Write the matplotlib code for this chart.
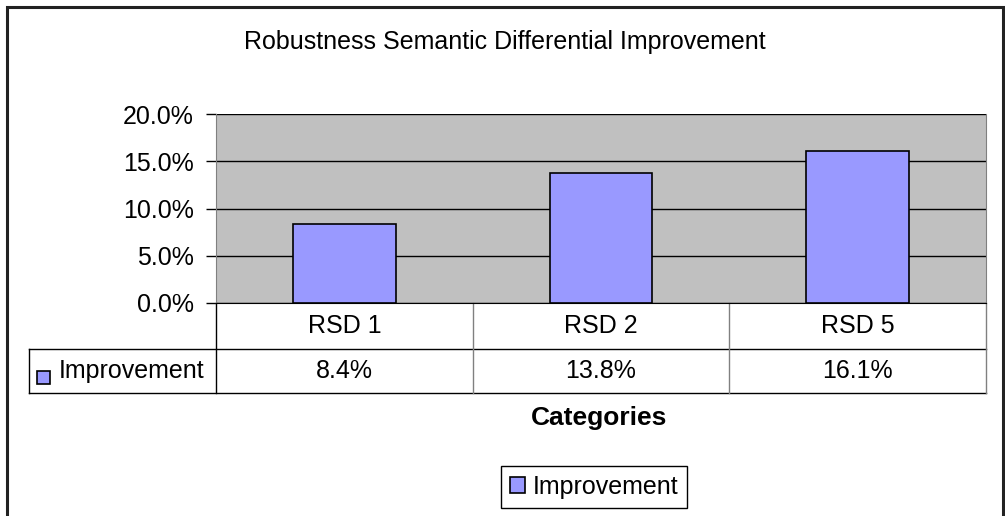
import matplotlib.pyplot as plt
from matplotlib.patches import Rectangle
from matplotlib.ticker import PercentFormatter

plt.rcParams['font.family'] = ['Liberation Sans', 'DejaVu Sans']

categories = ['RSD 1', 'RSD 2', 'RSD 5']
improvement = [8.4, 13.8, 16.1]
series_name = 'Improvement'
yticks = [0, 5, 10, 15, 20]

bar_color = '#9999FF'
bg_color = '#C0C0C0'
fs = 18

fig = plt.figure(figsize=(10.05, 5.16), dpi=100)

# outer chart frame (bottom edge runs off the image)
fig.patches.append(Rectangle((7 / 1005, -0.05), (1003 - 7) / 1005, 1 - 7 / 516 + 0.05,
                             transform=fig.transFigure, fill=False,
                             edgecolor='#222222', linewidth=2.2))

ax = fig.add_axes([216 / 1005, 1 - 303 / 516, 770 / 1005, 189 / 516])
ax.set_facecolor(bg_color)

x = list(range(len(categories)))
ax.bar(x, improvement, width=0.4, color=bar_color, edgecolor='black',
       linewidth=1.2, zorder=3, label=series_name)

ax.set_xlim(-0.5, len(categories) - 0.5)
ax.set_ylim(0, 20)
ax.set_yticks(yticks)
ax.yaxis.set_major_formatter(PercentFormatter(decimals=1))
ax.tick_params(axis='y', length=7, width=1, labelsize=fs, pad=9)
ax.set_xticks([])
ax.grid(axis='y', color='black', linewidth=1, zorder=1)
ax.spines['top'].set_visible(False)
ax.spines['left'].set_color('#808080')
ax.spines['right'].set_color('#808080')

# data table under the plot, drawn with the axes' own transforms
xt = ax.get_xaxis_transform()
r1, r2 = -46 / 189, -90 / 189
lab_x = -187 / 770
for yy in (r1, r2):
    ax.plot([lab_x, 1], [yy, yy], transform=ax.transAxes, color='black',
            linewidth=1, clip_on=False)
ax.plot([lab_x, lab_x], [r1, r2], transform=ax.transAxes, color='black',
        linewidth=1, clip_on=False)
ax.plot([0, 0], [0, r2], transform=ax.transAxes, color='black',
        linewidth=1, clip_on=False)
ax.plot([1, 1], [0, r2], transform=ax.transAxes, color='#808080',
        linewidth=1, clip_on=False)
for b in x[:-1]:
    ax.plot([b + 0.5, b + 0.5], [0, r2], transform=xt, color='#808080',
            linewidth=1, clip_on=False)
for xi, cat, val in zip(x, categories, improvement):
    ax.text(xi, r1 / 2, cat, transform=xt, ha='center', va='center', fontsize=fs)
    ax.text(xi, (r1 + r2) / 2, f'{val:.1f}%', transform=xt, ha='center',
            va='center', fontsize=fs)

# legend key + series name in the row label cell
ax.add_patch(Rectangle((-179 / 770, -81 / 189), 13 / 770, 13 / 189,
                       transform=ax.transAxes, clip_on=False,
                       facecolor=bar_color, edgecolor='black', linewidth=1.2))
ax.text(-157 / 770, (r1 + r2) / 2, series_name, transform=ax.transAxes,
        ha='left', va='center', fontsize=fs)

fig.text(505 / 1005, 1 - 42 / 516, 'Robustness Semantic Differential Improvement',
         ha='center', va='center', fontsize=18)
fig.text(599 / 1005, 1 - 418 / 516, 'Categories', ha='center', va='center',
         fontsize=19, fontweight='bold')

leg = fig.legend(loc='center', bbox_to_anchor=(594 / 1005, 1 - 487 / 516),
                 fontsize=fs, fancybox=False, edgecolor='black', framealpha=1,
                 handlelength=0.6, handleheight=0.6, handletextpad=0.3,
                 borderpad=0.35)
leg.get_frame().set_linewidth(1)

fig.savefig('out.png', dpi=100)
